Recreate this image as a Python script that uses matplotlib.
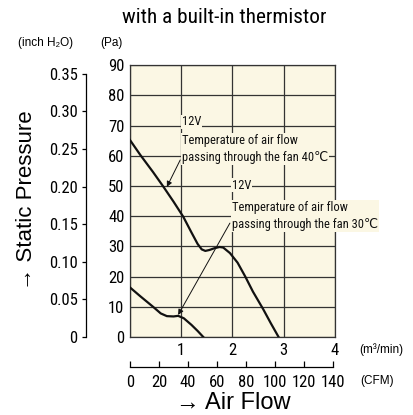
import matplotlib.pyplot as plt

# P-Q curves (x in m3/min, y in Pa)
flow_40 = [0.0, 0.2, 0.45, 0.65, 0.85, 1.04, 1.2, 1.32, 1.4, 1.47, 1.55, 1.65,
           1.75, 1.82, 1.95, 2.1, 2.25, 2.4, 2.6, 2.75, 2.9]
pa_40 = [65.2, 60.3, 54.6, 49.8, 44.8, 39.8, 34.6, 30.8, 29.0, 28.5, 28.8, 29.4,
         29.8, 29.6, 27.8, 24.6, 20.0, 15.0, 9.2, 4.5, 0.0]

flow_30 = [0.0, 0.2, 0.45, 0.6, 0.72, 0.85, 0.94, 1.05, 1.2, 1.32, 1.43]
pa_30 = [16.4, 13.5, 10.0, 7.8, 6.9, 6.8, 7.0, 6.2, 4.0, 2.0, 0.0]

pa_ticks = [0, 10, 20, 30, 40, 50, 60, 70, 80, 90]
inch_ticks = [0, 0.05, 0.10, 0.15, 0.20, 0.25, 0.30, 0.35]
inch_labels = ["0", "0.05", "0.10", "0.15", "0.20", "0.25", "0.30", "0.35"]
m3_ticks = [0, 1, 2, 3, 4]
m3_labels = ["", "1", "2", "3", "4"]
cfm_ticks = [0, 20, 40, 60, 80, 100, 120, 140]

PA_PER_INCH = 249.09
CFM_PER_M3 = 35.3147

NARROW = ["Roboto Condensed", "DejaVu Sans"]
PLAIN = ["Liberation Sans", "DejaVu Sans"]
CREAM = "#fbf7e4"
INK = "#111111"

fig = plt.figure(figsize=(4.14, 4.15), dpi=100)
ax = fig.add_axes([0.314, 0.188, 0.495, 0.655])
ax.set_facecolor(CREAM)

ax.plot(flow_40, pa_40, color=INK, lw=1.6, zorder=3)
ax.plot(flow_30, pa_30, color=INK, lw=1.6, zorder=3)

ax.set_xlim(0, 4)
ax.set_ylim(0, 90)
ax.set_xticks(m3_ticks)
ax.set_xticklabels(m3_labels, family=NARROW, fontsize=12)
ax.set_yticks(pa_ticks)
ax.set_yticklabels([str(t) for t in pa_ticks], family=NARROW, fontsize=12)
ax.tick_params(length=0, pad=4)
ax.grid(color="#333333", lw=0.9)
for s in ax.spines.values():
    s.set_color("#333333")
    s.set_linewidth(0.9)

# labels for the two curves
lab = dict(family=NARROW, fontsize=9.0, color=INK, ha="left", va="center", zorder=4)
box = dict(facecolor=CREAM, edgecolor="none", pad=0.6)
ax.text(1.01, 71.2, "12V", bbox=box, **lab)
ax.text(1.01, 62.3, "Temperature of air flow\npassing through the fan 40℃",
        linespacing=1.42, bbox=box, **lab)
ax.text(1.99, 50.3, "12V", bbox=box, **lab)
ax.text(1.99, 40.1, "Temperature of air flow\npassing through the fan 30℃",
        linespacing=1.42, bbox=box, clip_on=False, **lab)

arrow = dict(arrowstyle="-|>", lw=0.7, color=INK, mutation_scale=8,
             shrinkA=0, shrinkB=0)
ax.annotate("", xy=(0.72, 49.7), xytext=(0.98, 58.6), arrowprops=arrow, zorder=5)
ax.annotate("", xy=(0.94, 7.3), xytext=(1.95, 37.7), arrowprops=arrow, zorder=5)

# inch H2O scale on the far left
ax_in = fig.add_axes(ax.get_position(), frameon=True)
ax_in.patch.set_visible(False)
for s in ("top", "right", "bottom"):
    ax_in.spines[s].set_visible(False)
ax_in.spines["left"].set_position(("outward", 31.7))
ax_in.spines["left"].set_bounds(0, 0.35)
ax_in.spines["left"].set_linewidth(0.9)
ax_in.set_ylim(0, 90 / PA_PER_INCH)
ax_in.set_xticks([])
ax_in.set_yticks(inch_ticks)
ax_in.set_yticklabels(inch_labels, family=NARROW, fontsize=12)
ax_in.tick_params(axis="y", length=3, width=0.9, pad=3)

# CFM scale below
ax_cfm = fig.add_axes([0.314, 0.1157, 0.495, 0.001])
ax_cfm.patch.set_visible(False)
for s in ("top", "right", "left"):
    ax_cfm.spines[s].set_visible(False)
ax_cfm.spines["bottom"].set_bounds(0, 140)
ax_cfm.spines["bottom"].set_linewidth(0.9)
ax_cfm.set_xlim(0, 4 * CFM_PER_M3)
ax_cfm.set_yticks([])
ax_cfm.set_xticks(cfm_ticks)
ax_cfm.set_xticklabels([str(t) for t in cfm_ticks], family=NARROW, fontsize=12)
ax_cfm.tick_params(axis="x", direction="in", length=4, width=0.9, pad=6)

fig.text(0.541, 0.957, "with a built-in thermistor", family=NARROW,
         fontsize=15.3, ha="center", va="center")
fig.text(45.5 / 414, 0.896, "(inch H₂O)", family=PLAIN, fontsize=8.5,
         ha="center", va="center")
fig.text(111 / 414, 0.896, "(Pa)", family=PLAIN, fontsize=8.5,
         ha="center", va="center")
fig.text(381 / 414, 1 - 350 / 415, "(m³/min)", family=PLAIN, fontsize=8.5,
         ha="center", va="center")
fig.text(377 / 414, 1 - 381 / 415, "(CFM)", family=PLAIN, fontsize=8.5,
         ha="center", va="center")
fig.text(0.063, 0.518, "→ Static Pressure", family=PLAIN, fontsize=16,
         rotation=90, ha="center", va="center")
fig.text(0.563, 0.029, "→ Air Flow", family=PLAIN, fontsize=17,
         ha="center", va="center")

fig.savefig("out.png", dpi=100)
